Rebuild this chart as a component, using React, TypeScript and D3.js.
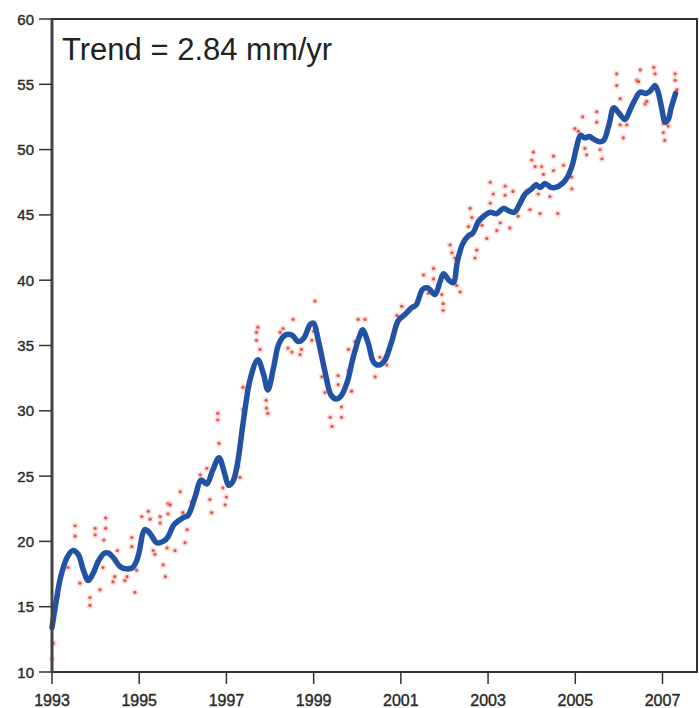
import React from "react";
import * as d3 from "d3";

// smoothed sea level curve (year, mm)
const trendYears = [
  1993.0, 1993.1, 1993.2, 1993.35, 1993.48, 1993.6, 1993.72, 1993.83, 1993.95, 1994.05,
  1994.2, 1994.3, 1994.42, 1994.55, 1994.7, 1994.85, 1994.97, 1995.13, 1995.25, 1995.4,
  1995.55, 1995.65, 1995.8, 1996.0, 1996.12, 1996.28, 1996.42, 1996.55, 1996.68, 1996.83,
  1996.95, 1997.05, 1997.15, 1997.25, 1997.4, 1997.55, 1997.72, 1997.85, 1997.95, 1998.08,
  1998.2, 1998.35, 1998.5, 1998.65, 1998.78, 1998.92, 1999.0, 1999.1, 1999.26, 1999.4,
  1999.52, 1999.62, 1999.77, 1999.9, 2000.05, 2000.12, 2000.25, 2000.38, 2000.5, 2000.62,
  2000.78, 2000.94, 2001.1, 2001.25, 2001.35, 2001.5, 2001.62, 2001.78, 2001.9, 2001.98,
  2002.1, 2002.2, 2002.3, 2002.42, 2002.55, 2002.65, 2002.78, 2002.9, 2003.05, 2003.2,
  2003.35, 2003.48, 2003.6, 2003.72, 2003.85, 2004.0, 2004.1, 2004.2, 2004.3, 2004.45,
  2004.55, 2004.7, 2004.82, 2004.93, 2005.03, 2005.12, 2005.22, 2005.32, 2005.42, 2005.55,
  2005.65, 2005.78, 2005.88, 2006.0, 2006.14, 2006.25, 2006.35, 2006.49, 2006.62, 2006.72,
  2006.83, 2006.9, 2006.98, 2007.06, 2007.13, 2007.2, 2007.3,
];
const trendValues = [
  13.4, 15.5, 17.3, 18.8, 19.3, 19.0, 17.8, 17.0, 17.6, 18.4,
  19.1, 19.1, 18.7, 18.1, 17.9, 18.0, 18.8, 20.9, 20.6, 19.9,
  20.0, 20.3, 21.3, 21.8, 22.0, 23.4, 24.7, 24.4, 25.4, 26.4,
  25.3, 24.3, 24.6, 25.9, 29.5, 32.5, 33.9, 32.8, 31.6, 33.3,
  35.1, 35.8, 35.8, 35.3, 35.6, 36.6, 36.7, 35.5, 33.0, 31.2,
  30.9, 31.1, 32.2, 34.0, 35.7, 36.2, 35.2, 33.7, 33.5, 33.8,
  35.2, 36.9, 37.4, 37.9, 38.1, 39.3, 39.4, 38.9, 39.9, 40.5,
  40.0, 39.8, 41.5, 42.8, 43.4, 43.6, 44.5, 44.9, 45.2, 45.1,
  45.5, 45.3, 45.2, 45.8, 46.6, 47.0, 47.3, 47.1, 47.4, 47.1,
  47.1, 47.4, 47.9, 48.8, 50.2, 51.1, 50.9, 51.0, 50.8, 50.6,
  50.7, 52.0, 53.2, 52.8, 52.3, 53.0, 53.7, 54.4, 54.3, 54.5,
  54.9, 54.4, 53.2, 52.1, 52.3, 53.2, 54.3,
];

// individual cycle estimates [year, mm]
const cyclePoints: [number, number][] = [
  [1993.03, 12.2], [1993.0, 11.0], [1993.37, 18.0], [1993.53, 21.2], [1993.53, 20.4],
  [1993.64, 16.8], [1993.87, 15.7], [1993.87, 15.1], [1993.9, 17.3], [1993.99, 21.0],
  [1993.99, 20.5], [1994.1, 16.3], [1994.17, 18.0], [1994.19, 20.1], [1994.23, 21.8],
  [1994.23, 21.0], [1994.4, 16.9], [1994.44, 17.3], [1994.5, 19.3], [1994.67, 17.0],
  [1994.72, 17.3], [1994.83, 20.3], [1994.83, 19.6], [1994.9, 16.1], [1994.94, 17.8],
  [1995.06, 21.9], [1995.21, 22.3], [1995.25, 21.7], [1995.32, 19.3], [1995.36, 19.0],
  [1995.48, 21.9], [1995.48, 21.4], [1995.55, 18.2], [1995.6, 17.3], [1995.64, 19.5],
  [1995.66, 22.9], [1995.66, 22.1], [1995.71, 22.8], [1995.82, 19.3], [1995.94, 23.8],
  [1996.0, 22.2], [1996.05, 19.9], [1996.1, 20.9], [1996.2, 23.0], [1996.33, 23.8],
  [1996.4, 25.1], [1996.5, 24.5], [1996.55, 25.6], [1996.62, 23.2], [1996.66, 22.2],
  [1996.8, 29.8], [1996.8, 29.3], [1996.83, 27.5], [1996.92, 24.1], [1996.97, 22.8],
  [1997.0, 23.4], [1997.27, 25.7], [1997.31, 24.9], [1997.38, 31.8], [1997.38, 30.1],
  [1997.47, 31.6], [1997.69, 36.0], [1997.69, 35.4], [1997.72, 36.4], [1997.77, 34.7],
  [1997.91, 30.8], [1997.92, 30.2], [1997.95, 29.8], [1998.23, 36.0], [1998.3, 36.3],
  [1998.41, 34.8], [1998.5, 34.5], [1998.53, 37.0], [1998.69, 34.3], [1998.72, 34.7],
  [1998.96, 35.4], [1999.0, 36.1], [1999.03, 38.4], [1999.19, 32.6], [1999.26, 31.4],
  [1999.3, 32.4], [1999.38, 29.5], [1999.42, 28.8], [1999.56, 32.7], [1999.56, 32.0],
  [1999.64, 30.3], [1999.64, 29.5], [1999.8, 33.1], [1999.8, 34.7], [1999.87, 31.5],
  [1999.95, 35.3], [2000.02, 37.0], [2000.18, 37.0], [2000.41, 32.6], [2000.52, 34.1],
  [2000.68, 33.5], [2000.91, 37.3], [2001.02, 38.0], [2001.21, 37.7], [2001.52, 40.4],
  [2001.63, 39.0], [2001.75, 40.9], [2001.75, 40.1], [2001.94, 38.9], [2001.97, 38.2],
  [2001.97, 37.7], [2002.13, 42.7], [2002.17, 42.1], [2002.24, 41.7], [2002.28, 39.6],
  [2002.36, 39.1], [2002.55, 44.1], [2002.59, 45.5], [2002.63, 44.8], [2002.7, 41.7],
  [2002.74, 42.3], [2002.82, 44.6], [2002.86, 44.2], [2002.97, 43.2], [2003.05, 47.5],
  [2003.05, 45.9], [2003.12, 46.6], [2003.2, 43.8], [2003.28, 44.4], [2003.39, 47.2],
  [2003.39, 46.5], [2003.5, 44.0], [2003.57, 46.8], [2003.69, 44.9], [2003.81, 46.4],
  [2003.89, 46.8], [2003.96, 45.4], [2004.0, 49.2], [2004.04, 49.8], [2004.08, 48.7],
  [2004.15, 46.6], [2004.19, 45.1], [2004.23, 48.7], [2004.27, 48.1], [2004.42, 46.4],
  [2004.5, 49.5], [2004.5, 48.4], [2004.6, 45.1], [2004.73, 48.8], [2004.92, 47.9],
  [2004.92, 47.0], [2004.99, 51.6], [2005.07, 51.4], [2005.17, 52.5], [2005.22, 50.1],
  [2005.26, 49.6], [2005.49, 52.9], [2005.49, 52.1], [2005.57, 50.0], [2005.61, 49.3],
  [2005.95, 55.8], [2005.95, 54.9], [2006.03, 53.9], [2006.03, 51.9], [2006.1, 50.9],
  [2006.18, 51.9], [2006.41, 55.3], [2006.45, 55.2], [2006.49, 56.1], [2006.6, 53.5],
  [2006.64, 53.7], [2006.8, 56.3], [2006.83, 55.8], [2007.02, 52.0], [2007.02, 51.3],
  [2007.05, 50.7], [2007.13, 51.8], [2007.29, 55.8], [2007.29, 55.3], [2007.33, 54.6],
];

const yTicks = [10, 15, 20, 25, 30, 35, 40, 45, 50, 55, 60];
const xTicks = [1993, 1995, 1997, 1999, 2001, 2003, 2005, 2007];
const trendLabel = "Trend = 2.84 mm/yr";

const W = 699;
const H = 708;
const left = 52;
const top = 19;
const bottom = 672;
const right = 697;

export default function App() {
  const x = d3.scaleLinear().domain([1993, 2007]).range([left, 662.5]);
  const y = d3.scaleLinear().domain([10, 60]).range([bottom, top]);

  const line = d3
    .line<number>()
    .x((d, i) => x(trendYears[i]))
    .y((d) => y(d))
    .curve(d3.curveCatmullRom.alpha(0.5));

  const font = "'Liberation Sans', Arial, Helvetica, sans-serif";

  return (
    <svg
      width={W}
      height={H}
      style={{ position: "absolute", left: 0, top: 0, background: "#fff" }}
    >
      {/* scattered cycle values */}
      <g>
        {cyclePoints.map(([yr, v], i) => (
          <g key={i}>
            <circle cx={x(yr)} cy={y(v)} r={3.4} fill="#f3a79c" opacity={0.35} />
            <circle cx={x(yr)} cy={y(v)} r={1.6} fill="#d8372b" opacity={0.8} />
          </g>
        ))}
      </g>

      {/* smoothed curve */}
      <path
        d={line(trendValues) || ""}
        fill="none"
        stroke="#2152a3"
        strokeWidth={5.5}
        strokeLinejoin="round"
        strokeLinecap="round"
      />

      {/* frame */}
      <rect
        x={left}
        y={top}
        width={right - left}
        height={bottom - top}
        fill="none"
        stroke="#333"
        strokeWidth={2}
      />
      <line x1={left} x2={left} y1={top} y2={bottom} stroke="#444" strokeWidth={3} />

      {/* y axis */}
      <g fontFamily={font} fontSize={15} fill="#2a2a2a" stroke="#2a2a2a" strokeWidth={0.4}>
        {yTicks.map((t) => (
          <g key={t}>
            <line x1={39} x2={left} y1={y(t)} y2={y(t)} stroke="#333" strokeWidth={1.5} />
            <text x={34} y={y(t)} textAnchor="end" dominantBaseline="central">
              {t}
            </text>
          </g>
        ))}
      </g>

      {/* x axis */}
      <g fontFamily={font} fontSize={16} fill="#2a2a2a" stroke="#2a2a2a" strokeWidth={0.4}>
        {xTicks.map((t) => (
          <g key={t}>
            <line x1={x(t)} x2={x(t)} y1={bottom} y2={bottom + 12} stroke="#333" strokeWidth={1.5} />
            <text x={x(t)} y={706} textAnchor="middle">
              {t}
            </text>
          </g>
        ))}
      </g>

      <text x={62} y={60} fontFamily={font} fontSize={31} fill="#222">
        {trendLabel}
      </text>
    </svg>
  );
}
